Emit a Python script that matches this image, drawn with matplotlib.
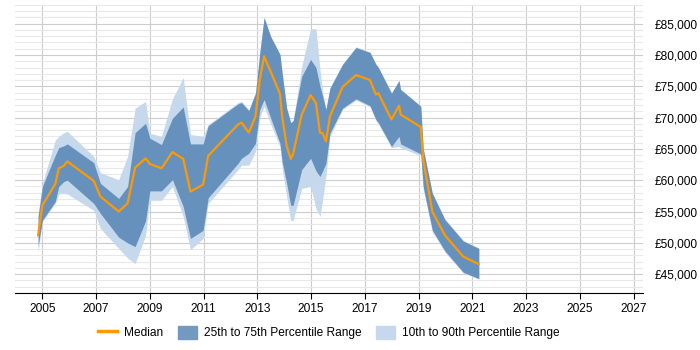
import matplotlib
matplotlib.use("Agg")
import matplotlib.pyplot as plt
from matplotlib.lines import Line2D
from matplotlib.patches import Patch
from matplotlib.ticker import MultipleLocator, FuncFormatter

# sample dates (decimal years)
dates = [2004.84, 2005.00, 2005.48, 2005.61, 2005.80, 2005.93, 2006.91, 2007.16,
         2007.84, 2008.17, 2008.45, 2008.84, 2009.00, 2009.43, 2009.84, 2010.24,
         2010.51, 2010.98, 2011.17, 2012.28, 2012.41, 2012.68, 2012.93, 2013.09,
         2013.25, 2013.49, 2013.84, 2013.92, 2014.09, 2014.24, 2014.33, 2014.65,
         2014.98, 2015.18, 2015.33, 2015.43, 2015.55, 2015.70, 2016.17, 2016.67,
         2017.19, 2017.41, 2017.50, 2017.99, 2018.27, 2018.33, 2019.08, 2019.17,
         2019.51, 2019.98, 2020.66, 2021.24]

median = [51200, 56000, 59400, 61900, 62300, 63000, 59900, 57400,
          55000, 56300, 62000, 63500, 62600, 61900, 64500, 63400,
          58200, 59300, 63900, 68900, 69200, 67600, 70200, 76100,
          79800, 77400, 73800, 70200, 65500, 63400, 64200, 70500,
          73600, 72300, 67600, 67500, 66200, 70200, 74900, 76800,
          76000, 73700, 73900, 69700, 71900, 70500, 68500, 63300,
          55000, 51200, 47800, 46600]

p25 = [49500, 53600, 56600, 59000, 59800, 60000, 56300, 54700,
       50900, 50000, 49400, 53500, 58300, 58300, 60100, 55800,
       50700, 52000, 57200, 62700, 63500, 64300, 65900, 71300,
       72900, 70000, 65900, 63000, 59500, 56000, 56000, 61700,
       63500, 61500, 60600, 61500, 62700, 67500, 71500, 73000,
       71900, 69700, 69200, 65400, 67000, 65800, 64200, 59000,
       52000, 48700, 45300, 44300]

p75 = [54200, 59000, 64000, 65200, 65500, 65800, 62800, 59500,
       57100, 59000, 67600, 69100, 66700, 65700, 69900, 71700,
       65800, 65800, 68700, 72200, 72400, 71100, 73900, 80300,
       86000, 83000, 80100, 77200, 71500, 69200, 69500, 76600,
       79300, 78000, 75000, 73400, 71300, 74700, 78500, 81200,
       80400, 78500, 78000, 73900, 75900, 74500, 71800, 65000,
       57900, 53700, 50300, 49100]

p10 = [48500, 53400, 56300, 57800, 57900, 57800, 55200, 52300,
       49100, 47600, 46700, 51200, 56800, 56800, 59000, 54200,
       48900, 50700, 56300, 61700, 62400, 62400, 64600, 70000,
       71800, 69000, 65400, 62000, 57400, 53600, 53600, 58700,
       59000, 55500, 54200, 57000, 60600, 67000, 71300, 72800,
       71700, 69500, 69000, 65200, 65400, 65200, 63900, 58500,
       51800, 48500, 45200, 44200]

p90 = [54500, 59500, 66400, 67000, 67600, 67800, 63800, 61200,
       60100, 63800, 71500, 72600, 67500, 67000, 73000, 76400,
       67300, 67000, 68900, 72400, 72600, 71300, 74000, 80600,
       86000, 83000, 80100, 77200, 71500, 69200, 69500, 78200,
       84200, 84200, 77700, 74000, 71400, 74800, 78600, 81300,
       80500, 78600, 78100, 74000, 76000, 74500, 71900, 65200,
       58000, 53800, 50400, 49200]

year_ticks = list(range(2005, 2028, 2))

plt.rcParams['font.family'] = ['Liberation Sans', 'DejaVu Sans']

fig = plt.figure(figsize=(7, 3.5), dpi=100)
ax = fig.add_axes([0.021, 0.163, 0.898, 0.823])

ax.fill_between(dates, p10, p90, color="#c6d9ec", lw=0, zorder=2)
ax.fill_between(dates, p25, p75, color="#4f7fb2", alpha=0.8, lw=0, zorder=3)
ax.plot(dates, median, color="#ff9900", lw=1.6, zorder=4)

ax.set_xlim(2003.97, 2027.36)
ax.set_ylim(42000, 88000)

ax.set_xticks(year_ticks)
ax.yaxis.set_major_locator(MultipleLocator(5000))
ax.yaxis.set_minor_locator(MultipleLocator(1000))
ax.yaxis.set_major_formatter(FuncFormatter(lambda v, p: f"£{v:,.0f}"))
ax.yaxis.tick_right()

ax.grid(axis="x", color="#cccccc", lw=0.8, zorder=1)
ax.grid(axis="y", which="major", color="#cccccc", lw=0.8, zorder=1)
ax.grid(axis="y", which="minor", color="#e8e8e8", lw=0.8, zorder=1)
ax.set_axisbelow(True)

for s in ["top", "left", "right"]:
    ax.spines[s].set_visible(False)
ax.spines["bottom"].set_color("black")
ax.tick_params(axis="y", which="both", length=0, labelsize=8.6, pad=8)
ax.tick_params(axis="x", length=4, labelsize=8.6, color="black")

handles = [Line2D([], [], color="#ff9900", lw=2.5),
           Patch(color="#7499c1"), Patch(color="#c6d9ec")]
labels = ["Median", "25th to 75th Percentile Range", "10th to 90th Percentile Range"]
fig.legend(handles, labels, loc="center", bbox_to_anchor=(0.47, 0.049), ncol=3,
           frameon=False, fontsize=8.6, handlelength=1.6, handleheight=1.2,
           columnspacing=1.2, handletextpad=0.6)

fig.savefig("out.png", dpi=100)
